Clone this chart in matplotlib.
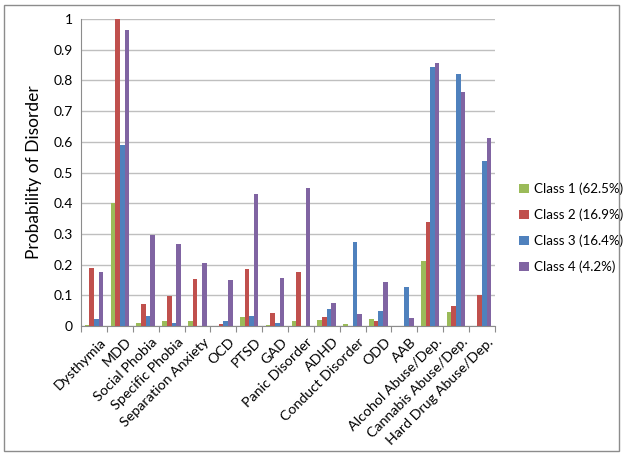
import matplotlib
matplotlib.use("Agg")
import matplotlib.pyplot as plt
import matplotlib.transforms as mtransforms
import numpy as np
from matplotlib.patches import Rectangle

plt.rcParams.update({
    "font.family": ["Lato", "DejaVu Sans"],
})

disorders = ["Dysthymia", "MDD", "Social Phobia", "Specific Phobia",
             "Separation Anxiety", "OCD", "PTSD", "GAD", "Panic Disorder",
             "ADHD", "Conduct Disorder", "ODD", "AAB", "Alcohol Abuse/Dep.",
             "Cannabis Abuse/Dep.", "Hard Drug Abuse/Dep."]

class1 = [0.002, 0.40, 0.011, 0.015, 0.015, 0.001, 0.030, 0.002, 0.016,
          0.020, 0.005, 0.023, 0.0, 0.212, 0.046, 0.0]
class2 = [0.190, 1.00, 0.072, 0.099, 0.153, 0.006, 0.186, 0.041, 0.177,
          0.029, 0.0, 0.016, 0.0, 0.340, 0.065, 0.101]
class3 = [0.023, 0.589, 0.034, 0.011, 0.0, 0.017, 0.033, 0.009, 0.0,
          0.054, 0.274, 0.048, 0.128, 0.843, 0.821, 0.536]
class4 = [0.177, 0.963, 0.297, 0.266, 0.204, 0.149, 0.430, 0.155, 0.450,
          0.075, 0.040, 0.144, 0.026, 0.856, 0.762, 0.611]

series = [class1, class2, class3, class4]
labels = ["Class 1 (62.5%)", "Class 2 (16.9%)", "Class 3 (16.4%)", "Class 4 (4.2%)"]
colors = ["#9BBB59", "#C0504D", "#4F81BD", "#8064A2"]

fig = plt.figure(figsize=(6.24, 4.54), dpi=100)
fig.patches.append(Rectangle((4 / 624, 3 / 454), 615 / 624, 446 / 454,
                             transform=fig.transFigure, fill=False,
                             edgecolor="#8C8C8C", linewidth=1.0))
ax = fig.add_axes([0.130, 0.282, 0.663, 0.676])

x = np.arange(len(disorders))
w = 0.18
for i, (vals, lab, col) in enumerate(zip(series, labels, colors)):
    ax.bar(x + (i - 1.5) * w, vals, width=w, color=col, label=lab, zorder=3)

ax.set_xlim(-0.5, len(disorders) - 0.5)
ax.set_ylim(0, 1)
ax.set_yticks(np.arange(0, 1.01, 0.1))
ax.set_yticklabels(["0"] + [f"{v:.1f}" for v in np.arange(0.1, 0.95, 0.1)] + ["1"],
                   fontsize=10)
ax.yaxis.grid(True, color="#BFBFBF", linewidth=1.0, zorder=0)
ax.set_axisbelow(True)
for s in ["top", "right"]:
    ax.spines[s].set_visible(False)
ax.spines["left"].set_color("#8C8C8C")
ax.spines["bottom"].set_color("#8C8C8C")
ax.tick_params(axis="y", length=0, pad=6)

ax.set_xticks(np.arange(-0.5, len(disorders), 1.0), minor=False)
ax.set_xticklabels([])
ax.tick_params(axis="x", length=4, color="#8C8C8C", direction="out")
ax.set_xticks(x, minor=True)
ax.set_xticklabels(disorders, minor=True, rotation=45, ha="right",
                   rotation_mode="anchor", fontsize=10.3)
ax.tick_params(axis="x", which="minor", length=0, pad=7)
shift = mtransforms.ScaledTranslation(4 / 72, 0, fig.dpi_scale_trans)
for lbl in ax.get_xticklabels(minor=True):
    lbl.set_transform(lbl.get_transform() + shift)

ax.set_ylabel("Probability of Disorder", fontsize=12.5, labelpad=8)

ax.legend(loc="center left", bbox_to_anchor=(1.03, 0.32), frameon=False,
          fontsize=9.6, handlelength=0.7, handleheight=0.7, handletextpad=0.4,
          labelspacing=1.0)

fig.savefig("out.png", dpi=100)
